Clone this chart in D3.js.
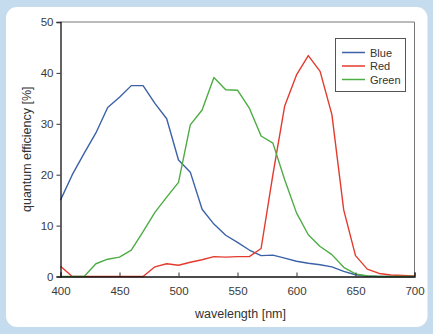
<!DOCTYPE html>
<html><head><meta charset="utf-8">
<script src="https://cdn.jsdelivr.net/npm/d3@7"></script>
<style>
html,body{margin:0;padding:0;background:#c4dcee;}
svg{display:block;font-family:"Liberation Sans",Arial,sans-serif;}
</style></head>
<body>
<svg id="c" width="433" height="334"></svg>
<script>
const wavelengths = d3.range(400, 701, 10);
const blue  = [15.0,20.0,24.2,28.2,33.2,35.2,37.5,37.5,34.0,31.0,22.9,20.5,13.2,10.3,8.1,6.7,5.2,4.1,4.2,3.6,3.0,2.6,2.3,1.9,1.0,0.35,0.1,0,0,0,0];
const red   = [2.0,0,0,0,0,0,0,0,1.9,2.5,2.2,2.8,3.3,3.9,3.8,3.9,3.9,5.5,20.0,33.5,39.6,43.4,40.3,31.8,13.1,4.1,1.45,0.6,0.3,0.2,0.1];
const green = [0,0,0,2.5,3.4,3.8,5.2,8.8,12.6,15.6,18.5,29.8,32.7,39.1,36.7,36.6,33.1,27.6,26.2,19.0,12.5,8.2,5.9,4.3,1.8,0.5,0.1,0,0,0,0];
const seriesNames = ["Blue","Red","Green"];
const seriesColors = ["#3b62a8","#e33b2e","#4dad44"];
const xTicks = [400,450,500,550,600,650,700];
const yTicks = [0,10,20,30,40,50];

const svg = d3.select("#c");
svg.append("rect").attr("x",6).attr("y",7).attr("width",421.5).attr("height",320)
  .attr("rx",11).attr("fill","#ffffff");

const L=60.5, R=414.5, T=22, B=276.5;
const x = d3.scaleLinear().domain([400,700]).range([L,R]);
const y = d3.scaleLinear().domain([0,50]).range([B,T]);

svg.append("path").attr("d",`M${L},${T}H${R}V${B}`).attr("fill","none").attr("stroke","#777").attr("stroke-width",1);

const data = [blue, red, green];
const line = d3.line().x((d,i)=>x(wavelengths[i])).y(d=>y(d));
data.forEach((s,k)=>{
  svg.append("path").datum(s).attr("d",line).attr("fill","none")
    .attr("stroke",seriesColors[k]).attr("stroke-width",1.4).attr("stroke-linejoin","round");
});

const yAxis = d3.axisLeft(y).tickValues(yTicks).tickSize(4).tickPadding(3);
const gy = svg.append("g").attr("transform",`translate(${L},0)`).call(yAxis);
const xAxis = d3.axisBottom(x).tickValues(xTicks).tickSize(-4).tickPadding(10);
const gx = svg.append("g").attr("transform",`translate(0,${B})`).call(xAxis);
[gx,gy].forEach(g=>{
  g.select(".domain").attr("stroke","#111").attr("stroke-width",1.3);
  g.selectAll(".tick line").attr("stroke","#333");
  g.selectAll("text").attr("fill","#3a3a3a").style("font-size","11.5px").style("font-family","'Liberation Sans',Arial,sans-serif");
});

svg.append("text").attr("x",(L+R)/2+3).attr("y",318).attr("text-anchor","middle")
  .attr("fill","#333").style("font-size","12.5px").text("wavelength [nm]");
svg.append("text").attr("transform",`translate(31,${(T+B)/2}) rotate(-90)`).attr("text-anchor","middle")
  .attr("fill","#333").style("font-size","12.5px").text("quantum efficiency [%]");

const lg = svg.append("g");
lg.append("rect").attr("x",335.5).attr("y",38.5).attr("width",70).attr("height",53)
  .attr("fill","#fff").attr("stroke","#555").attr("stroke-width",1);
seriesNames.forEach((n,i)=>{
  const yy = 52.5 + i*13.5;
  lg.append("line").attr("x1",342).attr("x2",365).attr("y1",yy).attr("y2",yy)
    .attr("stroke",seriesColors[i]).attr("stroke-width",1.5);
  lg.append("text").attr("x",370).attr("y",yy+4).attr("fill","#333")
    .style("font-size","11px").text(n);
});
</script>
</body></html>
